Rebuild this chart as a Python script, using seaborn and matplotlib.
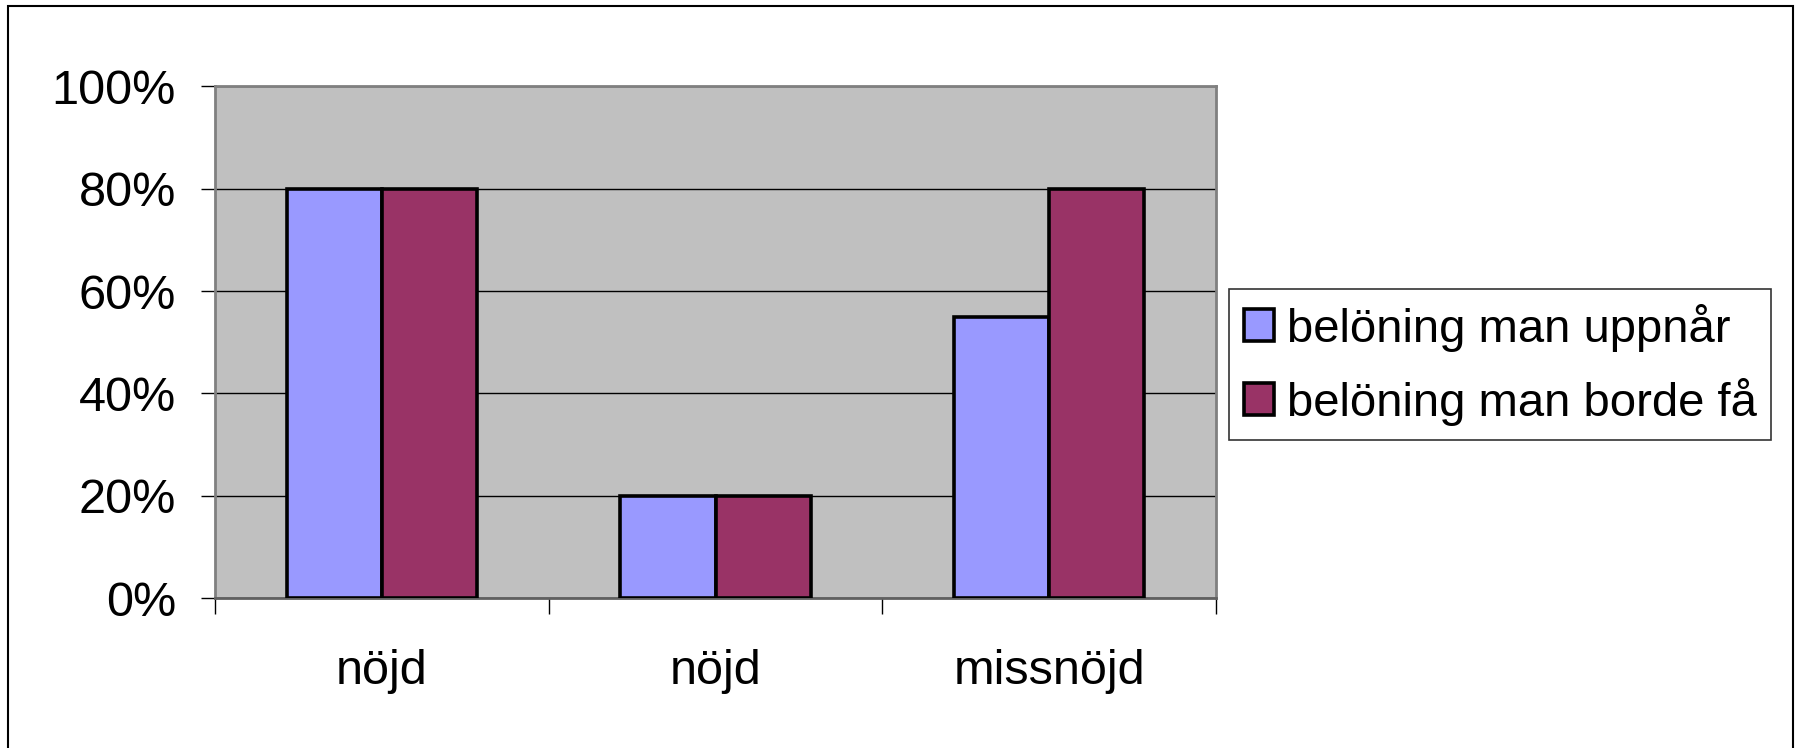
import matplotlib
matplotlib.use("Agg")
import matplotlib.pyplot as plt
import seaborn as sns
import pandas as pd
from matplotlib.patches import Rectangle
from matplotlib.ticker import FixedLocator, PercentFormatter

# ---- data ----
categories = ["nöjd", "nöjd", "missnöjd"]
series_names = ["belöning man uppnår", "belöning man borde få"]
uppnar = [80, 20, 55]
borde_fa = [80, 20, 80]
yticks = [0, 20, 40, 60, 80, 100]
colors = {"belöning man uppnår": "#9999FF", "belöning man borde få": "#993366"}

rows = []
for i, _ in enumerate(categories):
    rows.append({"pos": i, "serie": series_names[0], "value": uppnar[i]})
    rows.append({"pos": i, "serie": series_names[1], "value": borde_fa[i]})
df = pd.DataFrame(rows)

sns.set_theme(style="white")
plt.rcParams["font.family"] = ["Liberation Sans", "DejaVu Sans"]
plt.rcParams["text.color"] = "black"

fig = plt.figure(figsize=(18.01, 7.48), dpi=100)
ax = fig.add_axes([215 / 1801, 1 - 598.4 / 748, (1216 - 215) / 1801, (598.4 - 86.1) / 748])
ax.set_facecolor("#C0C0C0")

sns.barplot(data=df, x="pos", y="value", hue="serie", hue_order=series_names,
            palette=colors, errorbar=None, width=0.5714, gap=0,
            edgecolor="black", linewidth=2.6, ax=ax, zorder=3, saturation=1)

ax.set_xlim(-0.5, 2.5)
ax.set_ylim(0, 100)
ax.set_yticks(yticks)
ax.yaxis.set_major_formatter(PercentFormatter(decimals=0))
ax.yaxis.grid(True, color="black", linewidth=1.0, zorder=1)
ax.set_axisbelow(True)
ax.set_xticks(range(len(categories)))
ax.set_xticklabels(categories)
ax.xaxis.set_minor_locator(FixedLocator([-0.5, 0.5, 1.5, 2.5]))
ax.tick_params(axis="x", which="major", bottom=True, length=0, pad=36.5, labelsize=35,
               labelcolor="black")
ax.tick_params(axis="x", which="minor", bottom=True, length=11.5, width=1, color="black",
               direction="out")
ax.tick_params(axis="y", which="major", length=10, width=1, color="black", direction="out",
               pad=18, labelsize=35, labelcolor="black", left=True)
ax.set_xlabel("")
ax.set_ylabel("")

for side in ["top", "right", "left"]:
    ax.spines[side].set_visible(True)
    ax.spines[side].set_color("#808080")
    ax.spines[side].set_linewidth(2)
ax.spines["bottom"].set_color("#606060")
ax.spines["bottom"].set_linewidth(2)

leg = ax.legend(loc="center left", bbox_to_anchor=(1229 / 1801, 1 - 364.5 / 748),
                bbox_transform=fig.transFigure, frameon=True, fancybox=False,
                fontsize=34, handlelength=0.64, handleheight=0.64, handletextpad=0.27,
                borderpad=0.31, labelspacing=0.55, borderaxespad=0)
leg.get_frame().set_edgecolor("black")
leg.get_frame().set_linewidth(1.2)
for t in leg.get_texts():
    t.set_color("black")
for h in leg.legend_handles:
    h.set_edgecolor("black")
    h.set_linewidth(2.6)

fig.patches.append(Rectangle((8 / 1801, -0.05), (1793 - 8) / 1801, (1 - 6 / 748) + 0.05,
                             transform=fig.transFigure, fill=False, edgecolor="black",
                             linewidth=1.5))

fig.savefig("out.png", dpi=100, facecolor="white")
